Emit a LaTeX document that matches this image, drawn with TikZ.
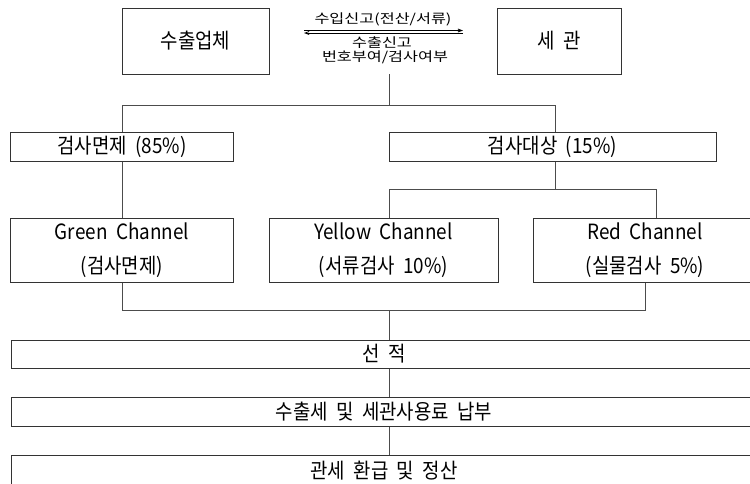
\documentclass[tikz,border=0pt]{standalone}
\usepackage{fontspec}
\setmainfont{Noto Sans CJK KR}[FakeStretch=0.9,WordSpace=2]
\newfontfamily\smallfnt{Noto Sans CJK KR}[FakeStretch=1.25]
\usetikzlibrary{arrows.meta}
\begin{document}
\begin{tikzpicture}[x=1pt,y=-1pt,
  box/.style={draw=black!80, line width=1pt, inner sep=0pt, align=center,
    font=\fontsize{21}{34}\selectfont},
  lbl/.style={inner sep=0pt, font=\smallfnt\fontsize{13}{13}\selectfont},
  conn/.style={draw=black!70, line width=0.8pt},
  arr/.style={draw=black, line width=0.8pt, -{Straight Barb[length=4pt,width=3pt]}}]
\useasboundingbox (0,0) rectangle (750,483);
\clip (0,0) rectangle (750,483);
% top boxes
\node[box, minimum width=147, minimum height=66] (exp) at (195.5,41) {수출업체};
\node[box, minimum width=124, minimum height=66] (cus) at (559.5,41) {세 관};
% labels between
\node[lbl] (t1) at (383,19) {수입신고(전산/서류)};
\node[lbl] (t2) at (382,43) {수출신고};
\node[lbl] (t3) at (385,57) {번호부여/검사여부};
\coordinate (a1) at (304,30.5);
\coordinate (a2) at (463,30.5);
\coordinate (b1) at (463,33);
\coordinate (b2) at (304,33);
\draw[arr] (a1) -- (a2);
\draw[arr] (b1) -- (b2);
% level 2
\node[box, minimum width=223, minimum height=29] (ex) at (122,146.5) {검사면제 (85\%)};
\node[box, minimum width=327, minimum height=29] (ins) at (552.5,146.5) {검사대상 (15\%)};
% channels
\node[box, minimum width=223, minimum height=64] (gr) at (122,250) {Green Channel\\(검사면제)};
\node[box, minimum width=229, minimum height=64] (ye) at (383.5,250) {Yellow Channel\\(서류검사 10\%)};
\node[box, minimum width=224, minimum height=64] (rd) at (645,250) {Red Channel\\(실물검사 5\%)};
% wide boxes
\node[box, minimum width=746, minimum height=28] (sh) at (384,354) {선 적};
\node[box, minimum width=746, minimum height=29] (pay) at (384,411.5) {수출세 및 세관사용료 납부};
\node[box, minimum width=746, minimum height=31] (ref) at (384,470.5) {관세 환급 및 정산};
% connectors
\coordinate (c0) at (389,74);
\coordinate (c1) at (389,105);
\coordinate (c2) at (122,105);
\coordinate (c3) at (555,105);
\draw[conn] (c0) -- (c1);
\draw[conn] (ex.north) |- (c2) -- (c3) -- (c3 |- ins.north);
\draw[conn] (ex.south) -- (gr.north);
\coordinate (d0) at (555,189);
\coordinate (d1) at (389,189);
\coordinate (d2) at (656,189);
\draw[conn] (d0 |- ins.south) -- (d0);
\draw[conn] (d1 |- ye.north) -- (d1) -- (d2) -- (d2 |- rd.north);
\coordinate (e0) at (122,310);
\coordinate (e1) at (645,310);
\coordinate (e2) at (389,310);
\draw[conn] (gr.south) -- (e0) -- (e1) -- (e1 |- rd.south);
\draw[conn] (e2) -- (e2 |- sh.north);
\draw[conn] (e2 |- sh.south) -- (e2 |- pay.north);
\draw[conn] (e2 |- pay.south) -- (e2 |- ref.north);
\end{tikzpicture}
\end{document}
